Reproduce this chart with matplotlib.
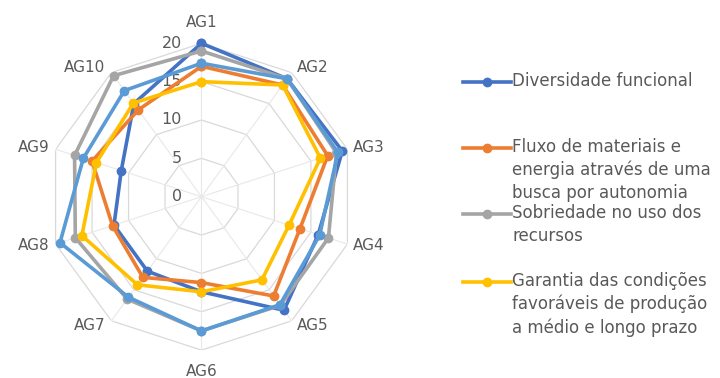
import numpy as np
import matplotlib
matplotlib.use("Agg")
import matplotlib.pyplot as plt
from matplotlib.lines import Line2D
import matplotlib.transforms as mtransforms

categories = ["AG1", "AG2", "AG3", "AG4", "AG5", "AG6", "AG7", "AG8", "AG9", "AG10"]
diversidade = [20, 19, 19.3, 16, 18.3, 12.4, 12, 12, 11, 15]
fluxo = [17, 18, 17.3, 13.5, 16, 11.2, 13, 12.2, 15, 14]
sobriedade = [19, 19, 18.5, 17.4, 17.5, 17.5, 16.5, 17.3, 17.4, 19.5]
garantia = [15, 18, 16.3, 12, 13.4, 12.4, 14.2, 16.4, 14.4, 15.1]
quinta = [17.4, 19, 18.7, 16.2, 17.4, 17.5, 16.2, 19.4, 16.2, 17.1]
series_labels = ["Diversidade funcional",
                 "Fluxo de materiais e\nenergia através de uma\nbusca por autonomia",
                 "Sobriedade no uso dos\nrecursos",
                 "Garantia das condições\nfavoráveis de produção\na médio e longo prazo"]
radial_ticks = [0, 5, 10, 15, 20]

colors = ["#4472C4", "#ED7D31", "#A5A5A5", "#FFC000", "#5B9BD5"]
text_color = "#595959"
plt.rcParams['font.family'] = ['DejaVu Sans']

fig = plt.figure(figsize=(7.2, 3.78), dpi=100)
cx, cy, R = 201.5, 196.7, 153.4
ax = fig.add_axes([(cx - R) / 720, (378 - cy - R) / 378, 2 * R / 720, 2 * R / 378], projection='polar')
ax.set_theta_zero_location('N')
ax.set_theta_direction(-1)
ax.set_ylim(0, 20)
ax.grid(False)
ax.spines['polar'].set_visible(False)
ax.set_xticks([])
ax.set_yticks([])
ax.patch.set_alpha(0)

n = len(categories)
theta = np.arange(n) * 2 * np.pi / n
theta_c = np.append(theta, theta[0])

# polygon grid
for r in radial_ticks[1:]:
    ax.plot(theta_c, [r] * (n + 1), color="#D9D9D9", lw=0.9, zorder=1)
for t in theta:
    ax.plot([t, t], [0, 20], color="#E8E8E8", lw=0.8, zorder=1)

# radial tick labels
off = mtransforms.offset_copy(ax.transData, fig=fig, x=-14, y=0, units='points')
for r in radial_ticks:
    ax.text(0, r, str(r), transform=off, ha='right', va='center', fontsize=11.5, color=text_color)

# category labels (Excel-like placement outside the outer ring)
for t, lab in zip(theta, categories):
    s, c = np.sin(t), np.cos(t)
    if abs(s) < 1e-6:
        ha, dx, dy = 'center', 0, 21 * np.sign(c)
    elif s > 0:
        ha, dx, dy = 'left', 5, 6 * c
    else:
        ha, dx, dy = 'right', -6, 6 * c
    tr = mtransforms.offset_copy(ax.transData, fig=fig, x=dx, y=dy, units='dots')
    ax.text(t, 20, lab, transform=tr, ha=ha, va='center', fontsize=11, color=text_color)

data = [diversidade, fluxo, sobriedade, garantia, quinta]
for vals, c in zip(data, colors):
    v = list(vals) + [vals[0]]
    ax.plot(theta_c, v, color=c, lw=2.6, marker='o', markersize=6, zorder=3, clip_on=False)

# legend (manual)
ys = [82, 148, 214, 282]
for y, lab, c in zip(ys, series_labels, colors[:4]):
    yf = 1 - y / 378
    fig.add_artist(Line2D([463 / 720, 511 / 720], [yf, yf], color=c, lw=2.6, transform=fig.transFigure))
    fig.add_artist(Line2D([487 / 720], [yf], color=c, marker='o', markersize=6, transform=fig.transFigure))
    fig.text(512 / 720, yf + 10 / 378, lab, ha='left', va='top', fontsize=12, color=text_color,
             linespacing=1.33, transform=fig.transFigure)

fig.savefig("out.png", dpi=100)
